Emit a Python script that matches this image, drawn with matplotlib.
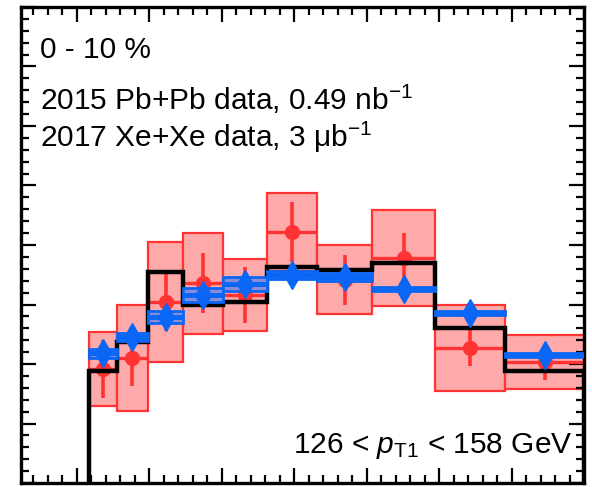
import numpy as np
import matplotlib
matplotlib.use("Agg")
import matplotlib.pyplot as plt
from matplotlib.patches import Rectangle
from matplotlib.ticker import MultipleLocator

plt.rcParams["font.family"] = ["Liberation Sans", "DejaVu Sans"]
plt.rcParams["mathtext.fontset"] = "custom"
plt.rcParams["mathtext.rm"] = "Liberation Sans"
plt.rcParams["mathtext.it"] = "Liberation Sans:italic"

# x_J bin edges (logarithmic binning)
bin_edges = [0.316, 0.355, 0.398, 0.447, 0.501, 0.562, 0.631, 0.708, 0.794, 0.891, 1.0]

# 2015 Pb+Pb data
pbpb_val = [0.958, 1.05, 1.52, 1.68, 1.58, 2.11, 1.706, 1.89, 1.134, 1.017]
pbpb_stat = [0.24, 0.235, 0.245, 0.25, 0.235, 0.25, 0.21, 0.21, 0.155, 0.15]
pbpb_syst = [0.31, 0.445, 0.505, 0.425, 0.30, 0.33, 0.29, 0.40, 0.365, 0.23]

# 2017 Xe+Xe data
xexe_val = [1.092, 1.227, 1.395, 1.58, 1.672, 1.748, 1.731, 1.63, 1.429, 1.076]
xexe_syst = [0.038, 0.035, 0.05, 0.055, 0.055, 0.03, 0.03, 0.02, 0.015, 0.015]

# reference histogram
ref_val = [0.941, 1.185, 1.773, 1.496, 1.521, 1.815, 1.79, 1.849, 1.303, 0.941]

red = "#ff3333"
red_fill = "#ffaaaa"
blue = "#0a66f5"
blue_fill = "#8c8cd6"

fig = plt.figure(figsize=(5.92, 4.87), dpi=100)
ax = fig.add_axes([21 / 592, 4 / 487, 563 / 592, 476 / 487])

edges = np.array(bin_edges)
lo, hi = edges[:-1], edges[1:]
centers = 0.5 * (lo + hi)

# Pb+Pb systematic boxes, stat bars and markers
for i in range(len(centers)):
    ax.add_patch(Rectangle((lo[i], pbpb_val[i] - pbpb_syst[i]), hi[i] - lo[i],
                           2 * pbpb_syst[i], facecolor=red_fill, edgecolor=red,
                           linewidth=1.6, zorder=1))
    ax.plot([lo[i], hi[i]], [pbpb_val[i], pbpb_val[i]], color=red, lw=2.4,
            solid_capstyle="butt", zorder=2)
ax.errorbar(centers, pbpb_val, yerr=pbpb_stat, fmt="o", color=red, ms=10,
            elinewidth=2.6, capsize=0, zorder=2.5)

# reference step histogram
ax.stairs(ref_val, edges, baseline=0, color="black", lw=3.2, zorder=3)

# Xe+Xe systematic boxes and markers
for i in range(len(centers)):
    ax.add_patch(Rectangle((lo[i], xexe_val[i] - xexe_syst[i]), hi[i] - lo[i],
                           2 * xexe_syst[i], facecolor=blue_fill, edgecolor=blue,
                           linewidth=2.0, zorder=4))
    ax.plot([lo[i], hi[i]], [xexe_val[i], xexe_val[i]], color=blue, lw=3.6,
            solid_capstyle="butt", zorder=4.5)
ax.plot(centers, xexe_val, "d", color=blue, ms=14, zorder=5)

ax.set_xlim(0.2228, 1.0)
ax.set_ylim(0, 4.0)
ax.xaxis.set_major_locator(MultipleLocator(0.1))
ax.xaxis.set_minor_locator(MultipleLocator(0.02))
ax.yaxis.set_major_locator(MultipleLocator(0.5))
ax.yaxis.set_minor_locator(MultipleLocator(0.1))
ax.tick_params(which="both", direction="in", top=True, right=True,
               labelbottom=False, labelleft=False, width=1.6)
ax.tick_params(which="major", length=11)
ax.tick_params(which="minor", length=6)
for s in ax.spines.values():
    s.set_linewidth(2.4)

fs = 21.5
ax.text(0.034, 0.893, "0 - 10 %", transform=ax.transAxes, fontsize=fs,
        ha="left", va="baseline")
ax.text(0.034, 0.784, "2015 Pb+Pb data, 0.49 nb$^{-1}$", transform=ax.transAxes,
        fontsize=fs, ha="left", va="baseline")
ax.text(0.034, 0.706, "2017 Xe+Xe data, 3 μb$^{-1}$", transform=ax.transAxes,
        fontsize=fs, ha="left", va="baseline")
ax.text(0.979, 0.063, "126 < $p_{\\mathrm{T1}}$ < 158 GeV", transform=ax.transAxes,
        fontsize=fs, ha="right", va="baseline")

fig.savefig("out.png", dpi=100)
